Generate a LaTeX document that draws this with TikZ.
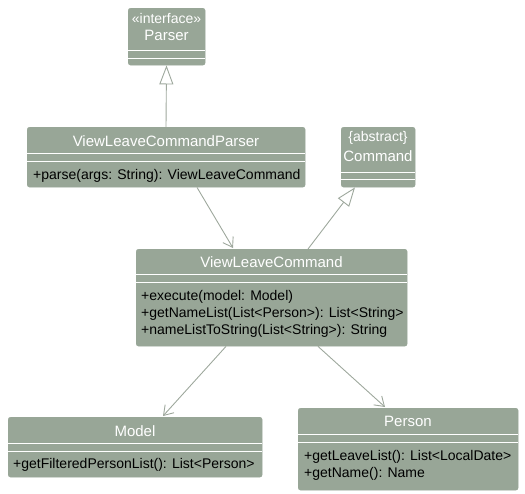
\documentclass[tikz,border=0pt]{standalone}
\usepackage{fontspec}
\setmainfont{Liberation Sans}
\usetikzlibrary{arrows.meta,calc}
\definecolor{boxfill}{HTML}{98A697}
\definecolor{linec}{HTML}{9EA89D}
\tikzset{
  cls/.style={draw=boxfill, fill=boxfill, rounded corners=2.5pt, anchor=north west, inner sep=0pt},
  sep/.style={draw=white, line width=0.9pt},
  ttl/.style={text=white, font=\fontsize{15}{17}\selectfont, anchor=center, inner sep=0pt},
  ster/.style={text=white, font=\fontsize{14}{16}\selectfont, anchor=center, inner sep=0pt},
  mth/.style={text=black, font=\fontsize{14}{16}\selectfont, anchor=west, inner sep=0pt},
  dep/.style={draw=linec, line width=0.9pt, -{Straight Barb[length=9pt,width=12pt,line width=0.9pt]}},
  gen/.style={draw=linec, line width=0.9pt, -{Triangle[open,length=19pt,width=14pt,line width=0.9pt,fill=white]}}
}
\begin{document}
\begin{tikzpicture}[x=1pt,y=-1pt]
\useasboundingbox (0,0) rectangle (525,493);
% Parser
\node[cls, minimum width=77pt, minimum height=57pt] (parser) at (128,8) {};
\node[ster] (parserS) at (166.5,18.5) {«interface»};
\node[ttl] (parserT) at (166.5,35.5) {Parser};
\draw[sep] ($(parser.north west)+(0,42)$) -- ($(parser.north east)+(0,42)$);
\draw[sep] ($(parser.north west)+(0,50)$) -- ($(parser.north east)+(0,50)$);
% ViewLeaveCommandParser
\node[cls, minimum width=278pt, minimum height=60pt] (vlcp) at (27,127) {};
\node[ttl] (vlcpT) at (166,141) {ViewLeaveCommandParser};
\draw[sep] ($(vlcp.north west)+(0,26)$) -- ($(vlcp.north east)+(0,26)$);
\draw[sep] ($(vlcp.north west)+(0,34)$) -- ($(vlcp.north east)+(0,34)$);
\node[mth] (vlcpM) at (33,176) {+parse(args: String): ViewLeaveCommand};
% Command
\node[cls, minimum width=74pt, minimum height=60pt] (cmd) at (341,127) {};
\node[ster] (cmdS) at (378,137.5) {\{abstract\}};
\node[ttl] (cmdT) at (378,156.5) {Command};
\draw[sep] ($(cmd.north west)+(0,45)$) -- ($(cmd.north east)+(0,45)$);
\draw[sep] ($(cmd.north west)+(0,52)$) -- ($(cmd.north east)+(0,52)$);
% ViewLeaveCommand
\node[cls, minimum width=271pt, minimum height=97pt] (vlc) at (136,249) {};
\node[ttl] (vlcT) at (271.5,262) {ViewLeaveCommand};
\draw[sep] ($(vlc.north west)+(0,25)$) -- ($(vlc.north east)+(0,25)$);
\draw[sep] ($(vlc.north west)+(0,33)$) -- ($(vlc.north east)+(0,33)$);
\node[mth] (vlcM1) at (141,297) {+execute(model: Model)};
\node[mth] (vlcM2) at (141,314) {+getNameList(List<Person>): List<String>};
\node[mth] (vlcM3) at (141,331) {+nameListToString(List<String>): String};
% Model
\node[cls, minimum width=254pt, minimum height=60pt] (model) at (8,417) {};
\node[ttl] (modelT) at (135,431) {Model};
\draw[sep] ($(model.north west)+(0,26)$) -- ($(model.north east)+(0,26)$);
\draw[sep] ($(model.north west)+(0,34)$) -- ($(model.north east)+(0,34)$);
\node[mth] (modelM) at (13,465) {+getFilteredPersonList(): List<Person>};
% Person
\node[cls, minimum width=220pt, minimum height=82pt] (person) at (298,408) {};
\node[ttl] (personT) at (408,421) {Person};
\draw[sep] ($(person.north west)+(0,26)$) -- ($(person.north east)+(0,26)$);
\draw[sep] ($(person.north west)+(0,34)$) -- ($(person.north east)+(0,34)$);
\node[mth] (personM1) at (304,457) {+getLeaveList(): List<LocalDate>};
\node[mth] (personM2) at (304,474) {+getName(): Name};
% connectors
\draw[gen] ($(vlcp.north west)+(139,0)$) -- ($(parser.south west)+(38.5,0)$);
\draw[dep] ($(vlcp.south west)+(170,0)$) -- ($(vlc.north west)+(97,-1)$);
\draw[gen] ($(vlc.north west)+(172,0)$) -- ($(cmd.south west)+(14,0)$);
\draw[dep] ($(vlc.south west)+(90,0)$) -- ($(model.north west)+(155,-1)$);
\draw[dep] ($(vlc.south west)+(182,0)$) -- ($(person.north west)+(87,-1)$);
\end{tikzpicture}
\end{document}
